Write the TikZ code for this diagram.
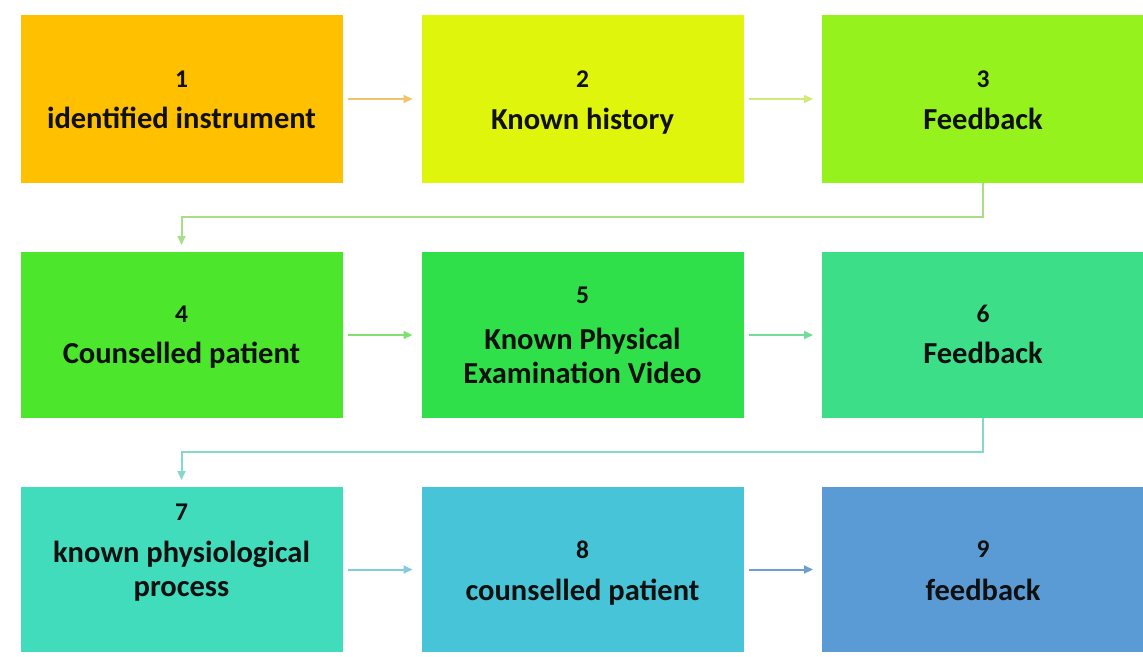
\documentclass[tikz,border=0pt]{standalone}
\usepackage{fontspec}
\setmainfont{Carlito}
\usetikzlibrary{arrows.meta}

% box fills
\definecolor{f1}{HTML}{FFC000}
\definecolor{f2}{HTML}{E0F50C}
\definecolor{f3}{HTML}{96F21C}
\definecolor{f4}{HTML}{4CE62D}
\definecolor{f5}{HTML}{30E04A}
\definecolor{f6}{HTML}{3CDE88}
\definecolor{f7}{HTML}{40DCBC}
\definecolor{f8}{HTML}{48C4D8}
\definecolor{f9}{HTML}{5B9BD5}
% connector strokes
\definecolor{a12}{HTML}{F2C46A}
\definecolor{a23}{HTML}{D2EA78}
\definecolor{a34}{HTML}{A8DE86}
\definecolor{a45}{HTML}{80E070}
\definecolor{a56}{HTML}{72DC98}
\definecolor{a67}{HTML}{86D8C8}
\definecolor{a78}{HTML}{82CCE0}
\definecolor{a89}{HTML}{6E9ED2}
\definecolor{txt}{HTML}{101010}

\begin{document}
\begin{tikzpicture}[x=1pt,y=-1pt,
  box/.style={rectangle, draw=none, minimum width=322pt, inner sep=0pt, outer sep=0pt},
  row1/.style={box, minimum height=168pt},
  row2/.style={box, minimum height=166pt},
  row3/.style={box, minimum height=165pt},
  num/.style={font=\bfseries\fontsize{25.5}{30}\selectfont, text=txt, anchor=base, inner sep=0pt},
  lbl/.style={font=\bfseries\fontsize{30.5}{36}\selectfont, text=txt, anchor=base, inner sep=0pt},
  link/.style={line width=2pt, -{Triangle[length=9pt,width=8pt]}, shorten >=9pt, shorten <=5pt},
  elbow/.style={line width=2pt, -{Triangle[length=9pt,width=8pt]}, shorten >=7pt}]

\fill[white] (0,0) rectangle (1143,656);
\useasboundingbox (0,0) rectangle (1143,656);

% first row
\node[row1, fill=f1] (b1) at (181.5,99) {};
\node[row1, fill=f2] (b2) at (582.5,99) {};
\node[row1, fill=f3] (b3) at (983,99) {};
% second row
\node[row2, fill=f4] (b4) at (181.5,335) {};
\node[row2, fill=f5] (b5) at (582.5,335) {};
\node[row2, fill=f6] (b6) at (983,335) {};
% third row
\node[row3, fill=f7] (b7) at (181.5,569.5) {};
\node[row3, fill=f8] (b8) at (582.5,569.5) {};
\node[row3, fill=f9] (b9) at (983,569.5) {};

% labels
\node[num] (n1) at (181.5,87) {1};
\node[lbl] (t1) at (181.5,128) {identified instrument};
\node[num] (n2) at (582.5,87) {2};
\node[lbl] (t2) at (582.5,129) {Known history};
\node[num] (n3) at (983,87) {3};
\node[lbl] (t3) at (983,129) {Feedback};

\node[num] (n4) at (181.5,322) {4};
\node[lbl] (t4) at (181.5,363) {Counselled patient};
\node[num] (n5) at (582.5,303) {5};
\node[lbl] (t5a) at (582.5,349) {Known Physical};
\node[lbl] (t5b) at (582.5,383) {Examination Video};
\node[num] (n6) at (983,322) {6};
\node[lbl] (t6) at (983,363) {Feedback};

\node[num] (n7) at (181.5,520) {7};
\node[lbl] (t7a) at (181.5,562) {known physiological};
\node[lbl] (t7b) at (181.5,596) {process};
\node[num] (n8) at (582.5,558) {8};
\node[lbl] (t8) at (582.5,600) {counselled patient};
\node[num] (n9) at (983,557) {9};
\node[lbl] (t9) at (983,600) {feedback};

% connectors
\draw[link, a12] (b1.east) -- (b2.west);
\draw[link, a23] (b2.east) -- (b3.west);
\draw[elbow, a34] (b3.south) -- ++(0,34) -| (b4.north);
\draw[link, a45] (b4.east) -- (b5.west);
\draw[link, a56] (b5.east) -- (b6.west);
\draw[elbow, a67] (b6.south) -- ++(0,34) -| (b7.north);
\draw[link, a78] (b7.east) -- (b8.west);
\draw[link, a89] (b8.east) -- (b9.west);
\end{tikzpicture}
\end{document}
